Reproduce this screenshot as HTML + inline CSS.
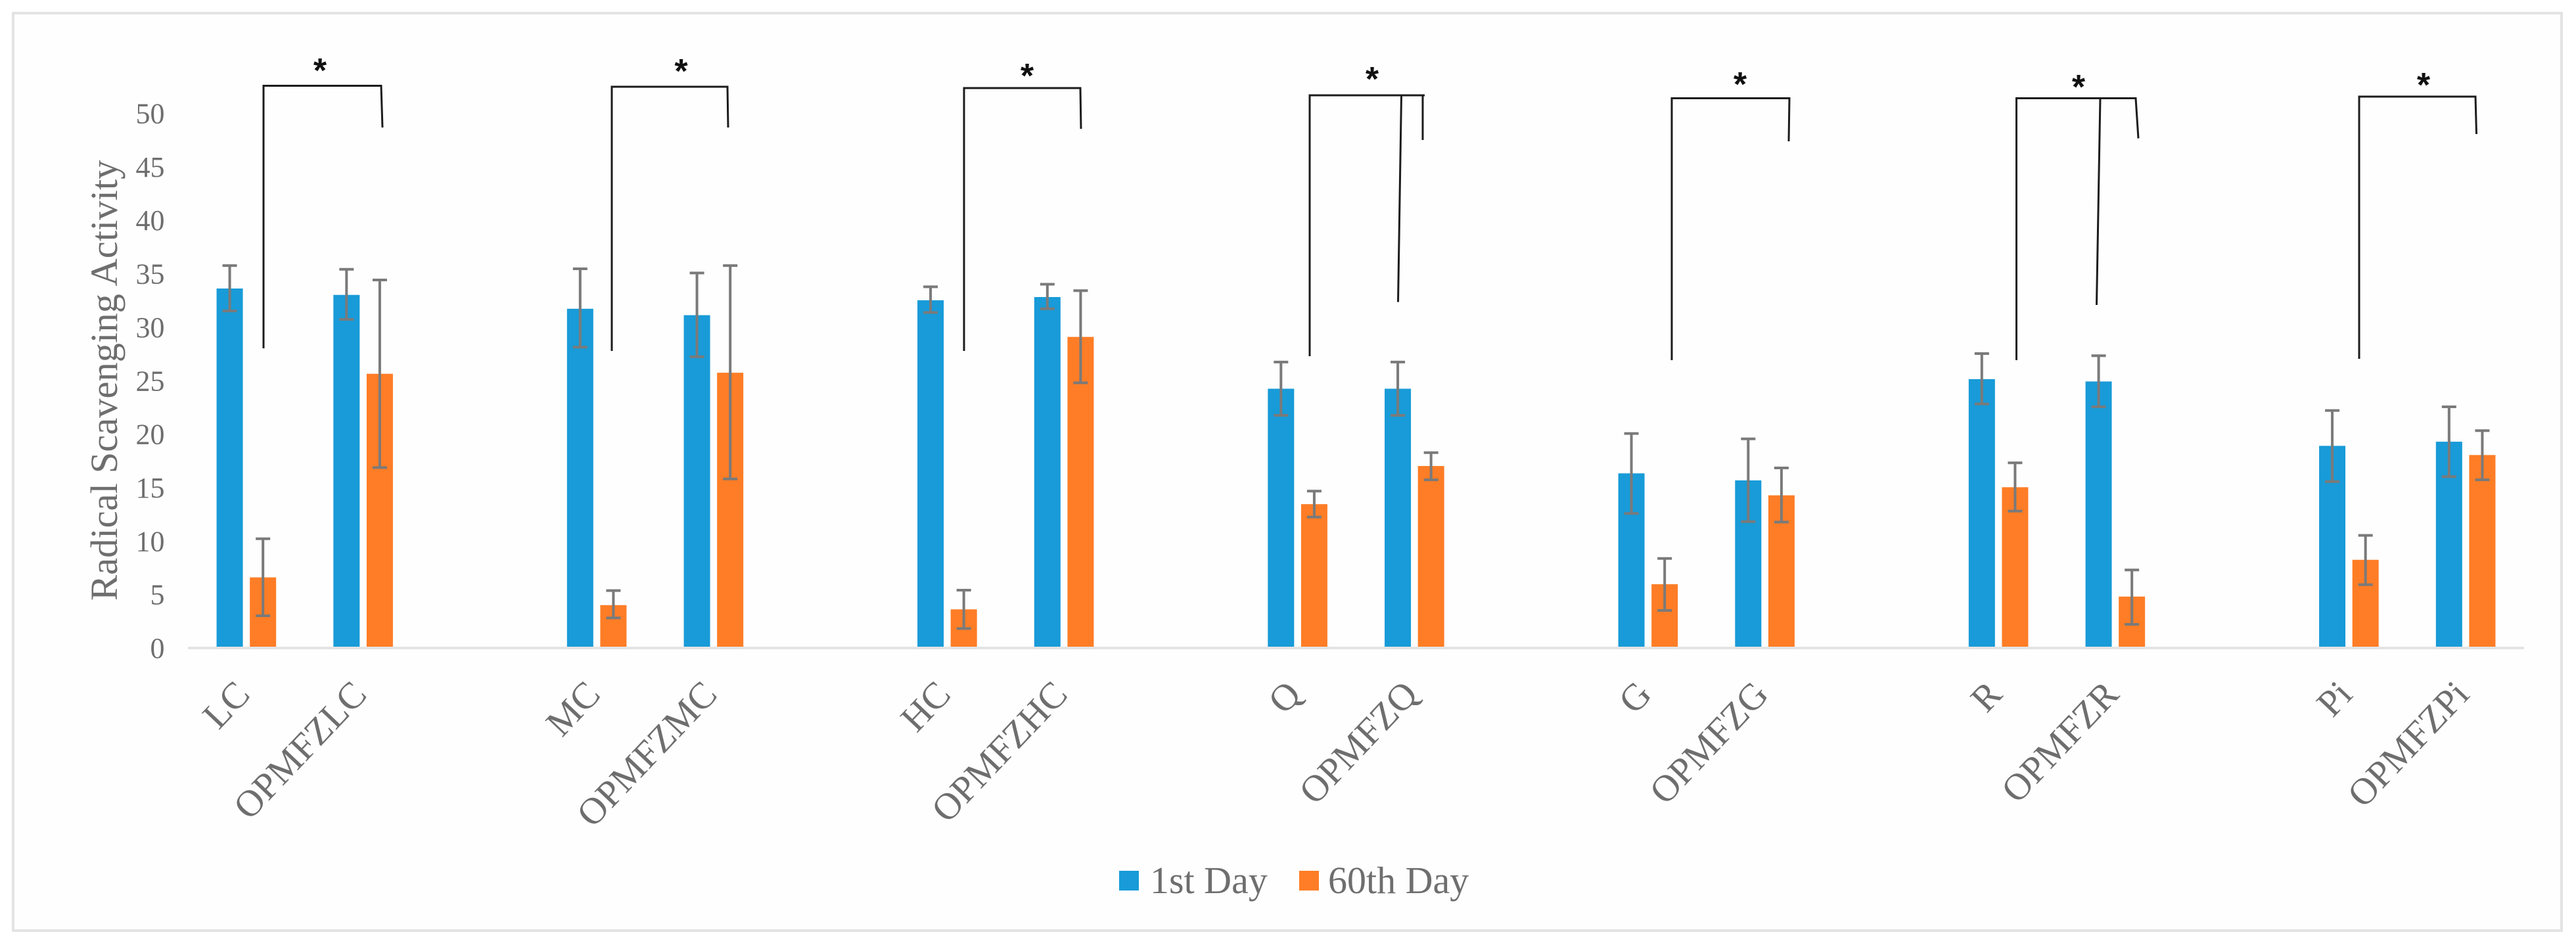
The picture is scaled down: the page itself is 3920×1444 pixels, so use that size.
<!DOCTYPE html>
<html lang="en">
<head>
<meta charset="utf-8">
<title>Radical Scavenging Activity</title>
<style>
html,body{margin:0;padding:0;background:#fff;}
svg{display:block;}
text{font-family:"Liberation Serif",serif;fill:#6e6e6e;}
</style>
</head>
<body>
<svg id="chart" xmlns="http://www.w3.org/2000/svg" width="3920" height="1444" viewBox="0 0 3920 1444">
  <rect x="0" y="0" width="3920" height="1444" fill="#ffffff"/>
  <rect x="20" y="20" width="3878" height="1396" fill="#fefefe" stroke="#e3e3e3" stroke-width="4"/>
  <g id="y-ticks"></g>
  <text transform="translate(178,914) rotate(-90)" font-size="58.6">Radical Scavenging Activity</text>
  <g id="bars"></g>
  <g id="errors"></g>
  <rect x="286" y="984" width="3555" height="4" fill="#e4e4e4"/>
  <g id="x-labels"></g>

  <g fill="none" stroke="#1c1c1c" stroke-width="3">
    <path d="M401 530 L401 130.5 L580 130.5 L582 194"/>
    <path d="M931 534 L931 132 L1107 132 L1108 194"/>
    <path d="M1467 534 L1467 134 L1644 134 L1645 196"/>
    <path d="M1993 542 L1993 145 L2168 145 M2165 145 L2165 213 M2132.5 145 L2127.5 459.5"/>
    <path d="M2544 548 L2544 149.5 L2723 149.5 L2722 215"/>
    <path d="M3068.5 548 L3068.5 149.5 L3250 149.5 L3254 210.5 M3196 149.5 L3190.5 464"/>
    <path d="M3590 546 L3590 147 L3767 147 L3768.5 204"/>
  </g>
  <g font-size="52" text-anchor="middle">
    <text x="487" y="125" style="fill:#111;font-family:'Liberation Sans',sans-serif;font-weight:bold;">*</text>
    <text x="1036.5" y="126" style="fill:#111;font-family:'Liberation Sans',sans-serif;font-weight:bold;">*</text>
    <text x="1563" y="133" style="fill:#111;font-family:'Liberation Sans',sans-serif;font-weight:bold;">*</text>
    <text x="2088" y="138" style="fill:#111;font-family:'Liberation Sans',sans-serif;font-weight:bold;">*</text>
    <text x="2648" y="146" style="fill:#111;font-family:'Liberation Sans',sans-serif;font-weight:bold;">*</text>
    <text x="3163" y="150" style="fill:#111;font-family:'Liberation Sans',sans-serif;font-weight:bold;">*</text>
    <text x="3688" y="147" style="fill:#111;font-family:'Liberation Sans',sans-serif;font-weight:bold;">*</text>
  </g>

  <g>
    <rect x="1703" y="1325" width="30" height="30" fill="#189bd8"/>
    <text x="1750" y="1359" font-size="58">1st Day</text>
    <rect x="1977" y="1325" width="30" height="30" fill="#fe7d26"/>
    <text x="2021" y="1359" font-size="58">60th Day</text>
  </g>
</svg>
<script>
const categories = ["LC","OPMFZLC","","MC","OPMFZMC","","HC","OPMFZHC","","Q","OPMFZQ","","G","OPMFZG","","R","OPMFZR","","Pi","OPMFZPi"];
const day1Values = [33.6,33.0,null,31.7,31.1,null,32.5,32.8,null,24.2,24.2,null,16.26,15.6,null,25.1,24.88,null,18.84,19.23];
const day1ErrTop = [35.75,35.4,null,35.45,35.06,null,33.76,34.0,null,26.7,26.7,null,20.0,19.5,null,27.5,27.3,null,22.16,22.5];
const day1ErrBottom = [31.5,30.7,null,28.1,27.2,null,31.35,31.7,null,21.7,21.7,null,12.5,11.73,null,22.77,22.5,null,15.48,15.95];
const day60Values = [6.5,25.6,null,3.9,25.7,null,3.5,29.06,null,13.37,16.95,null,5.86,14.2,null,14.96,4.7,null,8.15,17.98];
const day60ErrTop = [10.13,34.4,null,5.26,35.75,null,5.3,33.4,null,14.6,18.2,null,8.28,16.77,null,17.25,7.2,null,10.44,20.27];
const day60ErrBottom = [2.9,16.8,null,2.7,15.74,null,1.7,24.75,null,12.16,15.65,null,3.4,11.69,null,12.72,2.1,null,5.82,15.65];
const yTicks = [0,5,10,15,20,25,30,35,40,45,50];

const SVG_NS = "http://www.w3.org/2000/svg";
const plotLeft = 286, plotRight = 3841, baseY = 984, pxPerUnit = 16.22;
const tickPxPerUnit = 16.27;
const barWidth = 40, barOffset = 25.3, capHalf = 11;
function xScale(i) { return plotLeft + (plotRight - plotLeft) / categories.length * (i + 0.5); }
function yScale(v) { return baseY - v * pxPerUnit; }
function make(tag, attrs) {
  const el = document.createElementNS(SVG_NS, tag);
  for (const k in attrs) el.setAttribute(k, attrs[k]);
  return el;
}
const barsG = document.getElementById("bars");
const errG = document.getElementById("errors");
const tickG = document.getElementById("y-ticks");
const labelG = document.getElementById("x-labels");

yTicks.forEach(function (t) {
  const el = make("text", { x: 250.5, y: baseY - t * tickPxPerUnit + 17, "font-size": 44, "text-anchor": "end" });
  
  
  el.textContent = t;
  tickG.appendChild(el);
});

function drawSeries(values, errTop, errBottom, offset, color, seriesName) {
  values.forEach(function (v, i) {
    if (v === null) return;
    const cx = xScale(i) + offset;
    const bar = make("rect", { x: cx - barWidth / 2, y: yScale(v), width: barWidth, height: baseY - yScale(v), fill: color });
    
    
    bar.setAttribute('data-series', seriesName);
    barsG.appendChild(bar);
    const yt = yScale(errTop[i]), yb = yScale(errBottom[i]);
    const err = make("path", {
      d: "M" + cx + " " + yt + " L" + cx + " " + yb +
         " M" + (cx - capHalf) + " " + yt + " L" + (cx + capHalf) + " " + yt +
         " M" + (cx - capHalf) + " " + yb + " L" + (cx + capHalf) + " " + yb,
      fill: "none", stroke: "#7a7a7a", "stroke-width": 4
    });
    
    
    errG.appendChild(err);
  });
}
drawSeries(day1Values, day1ErrTop, day1ErrBottom, -barOffset, "#189bd8", "1st Day");
drawSeries(day60Values, day60ErrTop, day60ErrBottom, barOffset, "#fe7d26", "60th Day");

categories.forEach(function (c, i) {
  if (!c) return;
  const ax = xScale(i) + 8, ay = 1059;
  const el = make("text", { x: ax, y: ay, "font-size": 57, "text-anchor": "end", transform: "rotate(-46.5 " + ax + " " + ay + ")" });
  
  
  el.textContent = c;
  labelG.appendChild(el);
});
</script>
</body>
</html>
